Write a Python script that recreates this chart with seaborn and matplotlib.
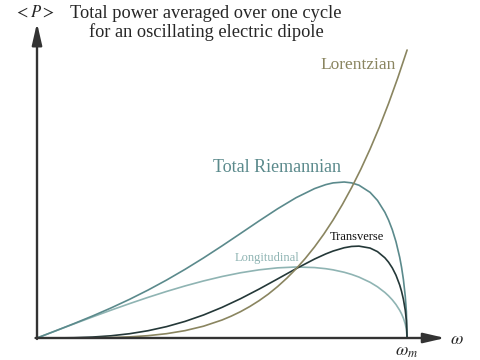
import numpy as np
import pandas as pd
import matplotlib
matplotlib.use("Agg")
import matplotlib.pyplot as plt
import seaborn as sns

# frequency (fraction of omega_m) and averaged power (arbitrary units)
omega = [0, 0.05, 0.1, 0.15, 0.2, 0.25, 0.3, 0.35, 0.4, 0.45, 0.5, 0.55, 0.6,
         0.65, 0.7, 0.75, 0.78, 0.8, 0.83, 0.85, 0.87, 0.9, 0.92, 0.94, 0.95,
         0.96, 0.97, 0.98, 0.985, 0.99, 0.995, 0.998, 1.0]
longitudinal = [0, 7.09, 14.13, 21.06, 27.83, 34.37, 40.64, 46.56, 52.06, 57.06,
                61.49, 65.23, 68.16, 70.14, 70.99, 70.44, 69.31, 68.16, 65.74,
                63.58, 60.91, 55.71, 51.20, 45.54, 42.12, 38.17, 33.48, 27.69,
                24.13, 19.83, 14.11, 8.96, 0]
transverse = [0, 0.04, 0.28, 0.94, 2.22, 4.28, 7.29, 11.37, 16.60, 23.03, 30.64,
              39.32, 48.90, 59.06, 69.32, 78.97, 84.04, 86.94, 90.25, 91.55,
              91.88, 89.93, 86.37, 80.19, 75.76, 70.11, 62.79, 53.01, 46.67,
              38.74, 27.84, 17.78, 0]
total = [0, 7.13, 14.41, 22.00, 30.05, 38.65, 47.93, 57.93, 68.66, 80.09, 92.13,
         104.55, 117.06, 129.20, 140.31, 149.41, 153.35, 155.10, 155.99, 155.13,
         152.79, 145.64, 137.57, 125.73, 117.88, 108.28, 96.27, 80.70, 70.80,
         58.57, 41.95, 26.74, 0]
omega_lor = [0, 0.1, 0.15, 0.2, 0.25, 0.3, 0.35, 0.4, 0.45, 0.5, 0.525, 0.55,
             0.575, 0.6, 0.625, 0.65, 0.675, 0.7, 0.725, 0.75, 0.775, 0.8, 0.825,
             0.85, 0.875, 0.9, 0.925, 0.95, 0.975, 1.0]
lorentzian = [0, 0.03, 0.15, 0.46, 1.12, 2.33, 4.32, 7.37, 11.81, 18.0, 21.9,
              26.35, 31.5, 37.32, 43.9, 51.41, 59.8, 69.15, 79.6, 91.13, 103.9,
              117.96, 133.4, 150.34, 168.8, 188.96, 210.8, 234.58, 260.3, 288]

sns.set_style("white")
plt.rcParams['font.family'] = ['Liberation Serif', 'DejaVu Serif']
plt.rcParams['mathtext.fontset'] = 'stix'

fig = plt.figure(figsize=(4.8, 3.6), dpi=100)
ax = fig.add_axes([0, 0, 1, 1])
ax.set_xlim(-0.1, 1.197)
ax.set_ylim(-22, 338)
ax.axis("off")

c_lor = "#8a8560"
c_tot = "#5b8a8c"
c_tra = "#243838"
c_lon = "#8fb4b3"

df = pd.DataFrame({"omega": omega, "Longitudinal": longitudinal,
                   "Transverse": transverse, "Total": total})
dfl = pd.DataFrame({"omega": omega_lor, "Lorentzian": lorentzian})

lw = 1.2
sns.lineplot(data=df, x="omega", y="Longitudinal", color=c_lon, lw=lw, ax=ax)
sns.lineplot(data=df, x="omega", y="Total", color=c_tot, lw=lw, ax=ax)
sns.lineplot(data=df, x="omega", y="Transverse", color=c_tra, lw=lw, ax=ax)
sns.lineplot(data=dfl, x="omega", y="Lorentzian", color=c_lor, lw=lw, ax=ax)

# axes with arrows
ax.annotate("", xy=(0, 315), xytext=(0, -1),
            arrowprops=dict(arrowstyle="-|>,head_length=1.3,head_width=0.3",
                            color="#333333", lw=1.7, shrinkA=0, shrinkB=0))
ax.annotate("", xy=(1.103, 0), xytext=(-0.004, 0),
            arrowprops=dict(arrowstyle="-|>,head_length=1.3,head_width=0.3",
                            color="#333333", lw=1.7, shrinkA=0, shrinkB=0))

ax.text(-0.008, 325, r"$<P>$", fontsize=12, ha="center", va="center")
ax.text(0.457, 315, "Total power averaged over one cycle\nfor an oscillating electric dipole",
        fontsize=13.2, ha="center", va="center", linespacing=1.05)
ax.text(0.868, 273, "Lorentzian", color=c_lor, fontsize=12.5, ha="center", va="center")
ax.text(0.649, 171, "Total Riemannian", color=c_tot, fontsize=13, ha="center", va="center")
ax.text(0.865, 101, "Transverse", color="#111111", fontsize=9, ha="center", va="center")
ax.text(0.622, 80, "Longitudinal", color=c_lon, fontsize=9, ha="center", va="center")
ax.text(1.135, -1, r"$\omega$", fontsize=13, ha="center", va="center")
ax.text(1.0, -14, r"$\omega_m$", fontsize=13, ha="center", va="center")

fig.savefig("out.png", dpi=100)
